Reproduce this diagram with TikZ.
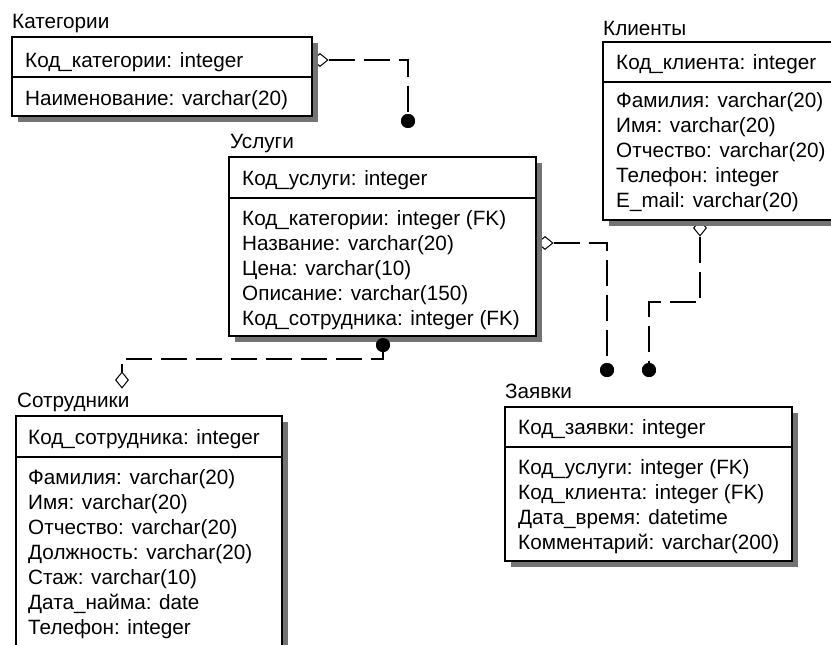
\documentclass[tikz,border=0pt]{standalone}
\usepackage{fontspec}
\setmainfont{Liberation Sans}
\usetikzlibrary{shapes.geometric}
\begin{document}
\begin{tikzpicture}[x=1pt,y=-1pt,
  box/.style={draw, line width=1.3pt, fill=white, anchor=north west, inner sep=0pt, outer sep=0pt},
  shadowbox/.style={fill=black!55},
  sep/.style={line width=1.3pt},
  txt/.style={anchor=base west, inner sep=0pt, font=\fontsize{20.7}{20.7}\selectfont},
  conn/.style={line width=1.3pt, dash pattern=on 26pt off 9pt},
  dot/.style={circle, fill=black, inner sep=0pt, minimum size=14pt},
  hdmd/.style={diamond, draw, fill=white, line width=1pt, inner sep=0pt, minimum width=16pt, minimum height=13pt},
  vdmd/.style={diamond, draw, fill=white, line width=1pt, inner sep=0pt, minimum width=13pt, minimum height=16pt}]
\useasboundingbox (0,0) rectangle (831,645);
\clip (0,0) rectangle (831,645);

% connectors and diamonds (under shadows)
\node[hdmd] (d1) at (320,60) {};
\coordinate (c1) at (408,60);
\node[dot] (n1) at (408,121) {};
\draw[conn] (d1.east) -- (c1) -- (n1.center);

\node[dot] (n2) at (383,345) {};
\coordinate (c2a) at (383,359);
\coordinate (c2b) at (122,359);
\node[vdmd] (d2) at (122,380) {};
\draw[conn] (n2.center) -- (c2a) -- (c2b) -- (d2.north);

\node[hdmd] (d3) at (545,243) {};
\coordinate (c3) at (607,243);
\node[dot] (n3) at (607,370) {};
\draw[conn] (d3.east) -- (c3) -- (n3.center);

\node[vdmd] (d4) at (700,228) {};
\coordinate (c4a) at (700,302);
\coordinate (c4b) at (649,302);
\node[dot] (n4) at (649,370) {};
\draw[conn] (d4.south) -- (c4a) -- (c4b) -- (n4.center);

% shadows
\fill[shadowbox] (18,43) rectangle (318,122);
\fill[shadowbox] (235,163) rectangle (542,342);
\fill[shadowbox] (609,48) rectangle (851,226);
\fill[shadowbox] (22,422) rectangle (288,656);
\fill[shadowbox] (511,413) rectangle (798,567);

% Категории
\node[box, minimum width=300pt, minimum height=79pt] (kat) at (12,37) {};
\draw[sep] (12,77) -- (312,77);
\node[txt] (katT) at (12,28) {Категории};
\node[txt] (kat1) at (25,67) {Код\_категории: integer};
\node[txt] (kat2) at (25,105) {Наименование: varchar(20)};

% Услуги
\node[box, minimum width=307pt, minimum height=179pt] (usl) at (229,157) {};
\draw[sep] (229,198) -- (536,198);
\node[txt] (uslT) at (230,148) {Услуги};
\node[txt] (usl1) at (242,185) {Код\_услуги: integer};
\node[txt] (usl2) at (242,225) {Код\_категории: integer (FK)};
\node[txt] (usl3) at (242,250) {Название: varchar(20)};
\node[txt] (usl4) at (242,275) {Цена: varchar(10)};
\node[txt] (usl5) at (242,300) {Описание: varchar(150)};
\node[txt] (usl6) at (242,325) {Код\_сотрудника: integer (FK)};

% Клиенты
\node[box, minimum width=242pt, minimum height=178pt] (kli) at (603,42) {};
\draw[sep] (603,82) -- (845,82);
\node[txt] (kliT) at (603,35) {Клиенты};
\node[txt] (kli1) at (616,69) {Код\_клиента: integer};
\node[txt] (kli2) at (616,107) {Фамилия: varchar(20)};
\node[txt] (kli3) at (616,132) {Имя: varchar(20)};
\node[txt] (kli4) at (616,157) {Отчество: varchar(20)};
\node[txt] (kli5) at (616,182) {Телефон: integer};
\node[txt] (kli6) at (616,207) {E\_mail: varchar(20)};

% Сотрудники
\node[box, minimum width=266pt, minimum height=234pt] (sot) at (16,416) {};
\draw[sep] (16,457) -- (282,457);
\node[txt] (sotT) at (17,407) {Сотрудники};
\node[txt] (sot1) at (28,444) {Код\_сотрудника: integer};
\node[txt] (sot2) at (28,484) {Фамилия: varchar(20)};
\node[txt] (sot3) at (28,509) {Имя: varchar(20)};
\node[txt] (sot4) at (28,534) {Отчество: varchar(20)};
\node[txt] (sot5) at (28,559) {Должность: varchar(20)};
\node[txt] (sot6) at (28,584) {Стаж: varchar(10)};
\node[txt] (sot7) at (28,609) {Дата\_найма: date};
\node[txt] (sot8) at (28,634) {Телефон: integer};

% Заявки
\node[box, minimum width=287pt, minimum height=154pt] (zay) at (505,407) {};
\draw[sep] (505,447) -- (792,447);
\node[txt] (zayT) at (505,398) {Заявки};
\node[txt] (zay1) at (518,434) {Код\_заявки: integer};
\node[txt] (zay2) at (518,474) {Код\_услуги: integer (FK)};
\node[txt] (zay3) at (518,499) {Код\_клиента: integer (FK)};
\node[txt] (zay4) at (518,524) {Дата\_время: datetime};
\node[txt] (zay5) at (518,549) {Комментарий: varchar(200)};

% dots on top
\fill (n1) circle (7pt);
\fill (n2) circle (7pt);
\fill (n3) circle (7pt);
\fill (n4) circle (7pt);
\end{tikzpicture}
\end{document}
